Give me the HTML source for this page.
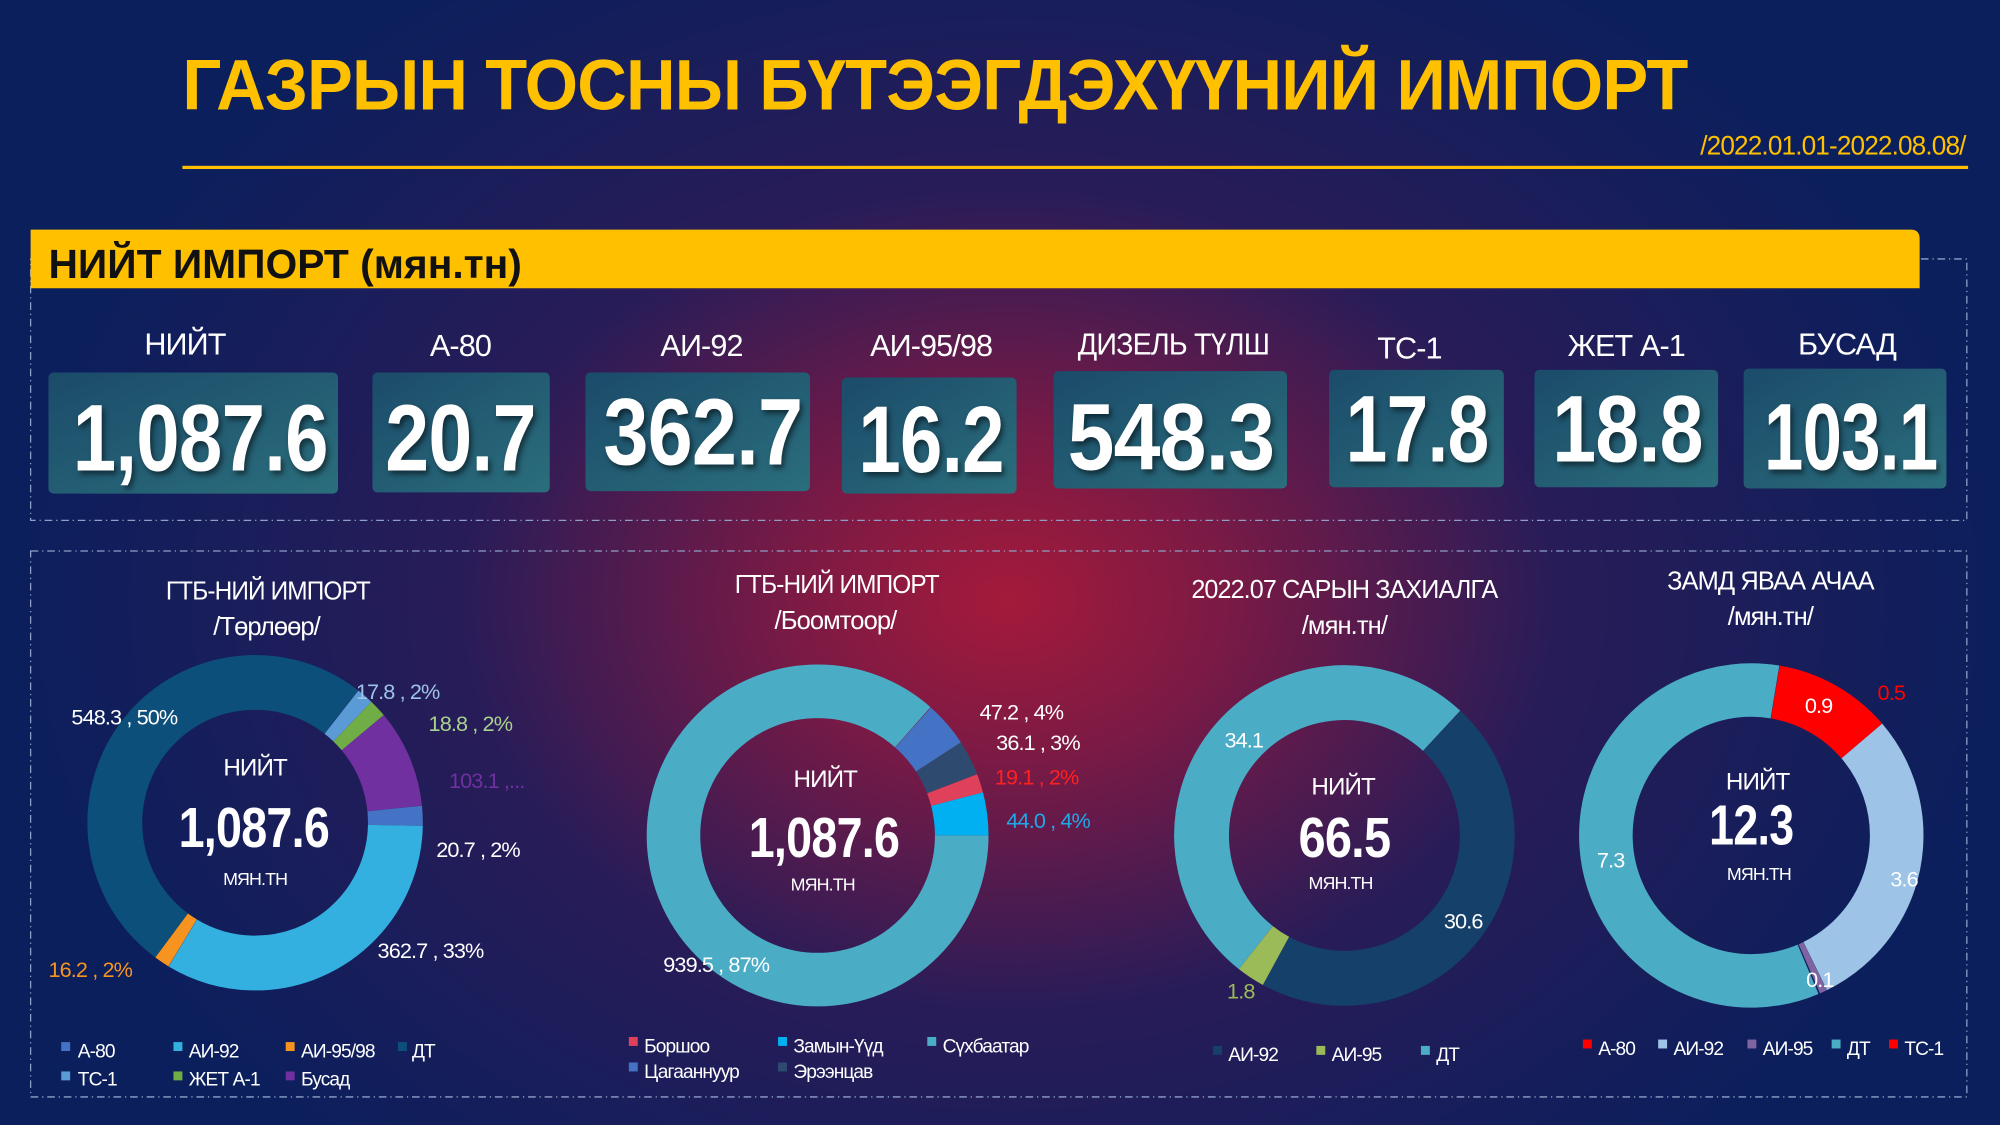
<!DOCTYPE html>
<html><head><meta charset="utf-8"><style>
html,body{margin:0;padding:0;width:2000px;height:1125px;overflow:hidden;background:#0b1f5c}
svg{display:block}
text{font-family:"Liberation Sans Narrow","Liberation Sans",sans-serif;fill:#fff;letter-spacing:-0.7px}
</style></head><body>
<svg width="2000" height="1125" viewBox="0 0 1568 882" preserveAspectRatio="none" xmlns="http://www.w3.org/2000/svg">
<defs>
<radialGradient id="bg" cx="790" cy="470" r="780" gradientUnits="userSpaceOnUse" gradientTransform="translate(790 470) scale(1 0.75) translate(-790 -470)">
<stop offset="0" stop-color="#a51a3a"/><stop offset="0.22" stop-color="#7a1a45"/><stop offset="0.55" stop-color="#281c58"/><stop offset="1" stop-color="#0b1f5c"/>
</radialGradient>
<linearGradient id="card" x1="0" y1="0" x2="1" y2="1"><stop offset="0" stop-color="#1b4b6a"/><stop offset="1" stop-color="#2b6e7c"/></linearGradient>
</defs>
<rect width="1568" height="882" fill="#0b1f5c"/>
<rect width="1568" height="882" fill="url(#bg)"/>

<text x="733" y="86" text-anchor="middle" font-size="56" font-weight="bold" style="fill:#ffc000" textLength="1180" lengthAdjust="spacingAndGlyphs">ГАЗРЫН ТОСНЫ БҮТЭЭГДЭХҮҮНИЙ ИМПОРТ</text>
<rect x="143" y="130" width="1400" height="2.5" fill="#ffc000"/>
<text x="1541" y="121" text-anchor="end" font-size="21" style="fill:#ffc000" textLength="208" lengthAdjust="spacingAndGlyphs">/2022.01.01-2022.08.08/</text>

<rect x="24" y="203" width="1518" height="205" fill="none" stroke="#8fa0c8" stroke-width="1" stroke-dasharray="6 3 1 3"/>
<rect x="24" y="432" width="1518" height="428" fill="none" stroke="#8fa0c8" stroke-width="1" stroke-dasharray="6 3 1 3"/>
<path d="M24 180 H1498 Q1505 180 1505 187 V226 H24 Z" fill="#ffc000"/>
<text x="38" y="218" font-size="32" font-weight="bold" style="fill:#111;letter-spacing:0" font-family="Liberation Sans">НИЙТ ИМПОРТ (мян.тн)</text>

<g font-size="24">
<text x="145" y="278" text-anchor="middle">НИЙТ</text>
<text x="361" y="279" text-anchor="middle">А-80</text>
<text x="550" y="279" text-anchor="middle">АИ-92</text>
<text x="730" y="279" text-anchor="middle">АИ-95/98</text>
<text x="920" y="278" text-anchor="middle" textLength="150" lengthAdjust="spacingAndGlyphs">ДИЗЕЛЬ ТҮЛШ</text>
<text x="1105" y="281" text-anchor="middle">ТС-1</text>
<text x="1275" y="279" text-anchor="middle">ЖЕТ А-1</text>
<text x="1448" y="278" text-anchor="middle">БУСАД</text>
</g>
<g fill="url(#card)">
<rect x="38" y="292" width="227" height="95" rx="4"/>
<rect x="292" y="292" width="139" height="94" rx="4"/>
<rect x="459" y="292" width="176" height="93" rx="4"/>
<rect x="660" y="296" width="137" height="91" rx="4"/>
<rect x="826" y="291" width="183" height="92" rx="4"/>
<rect x="1042" y="290" width="137" height="92" rx="4"/>
<rect x="1203" y="290" width="144" height="92" rx="4"/>
<rect x="1367" y="289" width="159" height="94" rx="4"/>
</g>
<g font-size="74" font-weight="bold" style="filter:drop-shadow(2px 3px 2px rgba(0,0,0,0.5))">
<text x="157" y="369" text-anchor="middle" textLength="200" lengthAdjust="spacingAndGlyphs">1,087.6</text>
<text x="361" y="369" text-anchor="middle" textLength="118" lengthAdjust="spacingAndGlyphs">20.7</text>
<text x="551" y="364" text-anchor="middle" textLength="156" lengthAdjust="spacingAndGlyphs">362.7</text>
<text x="730" y="370" text-anchor="middle" textLength="114" lengthAdjust="spacingAndGlyphs">16.2</text>
<text x="918" y="368" text-anchor="middle" textLength="162" lengthAdjust="spacingAndGlyphs">548.3</text>
<text x="1111" y="362" text-anchor="middle" textLength="112" lengthAdjust="spacingAndGlyphs">17.8</text>
<text x="1276" y="362" text-anchor="middle" textLength="118" lengthAdjust="spacingAndGlyphs">18.8</text>
<text x="1451" y="368" text-anchor="middle" textLength="136" lengthAdjust="spacingAndGlyphs">103.1</text>
</g>

<g font-size="20" text-anchor="middle">
<text x="210" y="470" textLength="160" lengthAdjust="spacingAndGlyphs">ГТБ-НИЙ ИМПОРТ</text><text x="209" y="498">/Төрлөөр/</text>
<text x="656" y="465" textLength="160" lengthAdjust="spacingAndGlyphs">ГТБ-НИЙ ИМПОРТ</text><text x="655" y="493">/Боомтоор/</text>
<text x="1054" y="469" textLength="240" lengthAdjust="spacingAndGlyphs">2022.07 САРЫН ЗАХИАЛГА</text><text x="1054" y="497">/мян.тн/</text>
<text x="1388" y="462" textLength="162" lengthAdjust="spacingAndGlyphs">ЗАМД ЯВАА АЧАА</text><text x="1388" y="490">/мян.тн/</text>
</g>
<g fill="none" stroke-width="43">
<circle cx="200" cy="645" r="110" pathLength="360" stroke="#0b4f7a" stroke-dasharray="181.5 360" transform="rotate(126.5 200 645)"/>
<circle cx="200" cy="645" r="110" pathLength="360" stroke="#5b9bd5" stroke-dasharray="5.9 360" transform="rotate(-52 200 645)"/>
<circle cx="200" cy="645" r="110" pathLength="360" stroke="#70ad47" stroke-dasharray="6.2 360" transform="rotate(-46.1 200 645)"/>
<circle cx="200" cy="645" r="110" pathLength="360" stroke="#7030a0" stroke-dasharray="34.1 360" transform="rotate(-39.9 200 645)"/>
<circle cx="200" cy="645" r="110" pathLength="360" stroke="#4472c4" stroke-dasharray="6.9 360" transform="rotate(-5.8 200 645)"/>
<circle cx="200" cy="645" r="110" pathLength="360" stroke="#33b0e0" stroke-dasharray="120 360" transform="rotate(1.1 200 645)"/>
<circle cx="200" cy="645" r="110" pathLength="360" stroke="#f79420" stroke-dasharray="5.4 360" transform="rotate(121.1 200 645)"/>
</g>
<g fill="none" stroke-width="42">
<circle cx="641" cy="655" r="113" pathLength="360" stroke="#4bacc6" stroke-dasharray="311.5 360" transform="rotate(0 641 655)"/>
<circle cx="641" cy="655" r="113" pathLength="360" stroke="#4472c4" stroke-dasharray="15.5 360" transform="rotate(-48.5 641 655)"/>
<circle cx="641" cy="655" r="113" pathLength="360" stroke="#2e4a6e" stroke-dasharray="12 360" transform="rotate(-33 641 655)"/>
<circle cx="641" cy="655" r="113" pathLength="360" stroke="#e0415a" stroke-dasharray="6.4 360" transform="rotate(-21 641 655)"/>
<circle cx="641" cy="655" r="113" pathLength="360" stroke="#00b0f0" stroke-dasharray="14.6 360" transform="rotate(-14.6 641 655)"/>
</g>
<g fill="none" stroke-width="43">
<circle cx="1054" cy="655" r="112" pathLength="360" stroke="#4bacc6" stroke-dasharray="184.7 360" transform="rotate(128.3 1054 655)"/>
<circle cx="1054" cy="655" r="112" pathLength="360" stroke="#15406a" stroke-dasharray="165.6 360" transform="rotate(-47 1054 655)"/>
<circle cx="1054" cy="655" r="112" pathLength="360" stroke="#9bbb59" stroke-dasharray="9.7 360" transform="rotate(118.6 1054 655)"/>
</g>
<g fill="none" stroke-width="42">
<circle cx="1373" cy="655" r="114" pathLength="360" stroke="#4bacc6" stroke-dasharray="212.5 360" transform="rotate(67 1373 655)"/>
<circle cx="1373" cy="655" r="114" pathLength="360" stroke="#ff0000" stroke-dasharray="40 360" transform="rotate(-80.5 1373 655)"/>
<circle cx="1373" cy="655" r="114" pathLength="360" stroke="#9dc3e6" stroke-dasharray="104.5 360" transform="rotate(-40.5 1373 655)"/>
<circle cx="1373" cy="655" r="114" pathLength="360" stroke="#8064a2" stroke-dasharray="2.5 360" transform="rotate(64 1373 655)"/>
</g>

<g text-anchor="middle">
<text x="200" y="608" font-size="19">НИЙТ</text>
<text x="199" y="664" font-size="44" font-weight="bold" textLength="118" lengthAdjust="spacingAndGlyphs">1,087.6</text>
<text x="200" y="694" font-size="14">МЯН.ТН</text>
<text x="647" y="617" font-size="19">НИЙТ</text>
<text x="646" y="672" font-size="44" font-weight="bold" textLength="118" lengthAdjust="spacingAndGlyphs">1,087.6</text>
<text x="645" y="698" font-size="14">МЯН.ТН</text>
<text x="1053" y="623" font-size="19">НИЙТ</text>
<text x="1054" y="672" font-size="44" font-weight="bold" textLength="72" lengthAdjust="spacingAndGlyphs">66.5</text>
<text x="1051" y="697" font-size="14">МЯН.ТН</text>
<text x="1378" y="619" font-size="19">НИЙТ</text>
<text x="1373" y="662" font-size="44" font-weight="bold" textLength="66" lengthAdjust="spacingAndGlyphs">12.3</text>
<text x="1379" y="690" font-size="14">МЯН.ТН</text>
</g>

<g font-size="17">
<text x="56" y="568">548.3 , 50%</text>
<text x="279" y="548" style="fill:#9dc3e6">17.8 , 2%</text>
<text x="336" y="573" style="fill:#a9d18e">18.8 , 2%</text>
<text x="352" y="618" style="fill:#7030a0">103.1 ,...</text>
<text x="342" y="672">20.7 , 2%</text>
<text x="296" y="751">362.7 , 33%</text>
<text x="38" y="766" style="fill:#f79420">16.2 , 2%</text>
<text x="520" y="762">939.5 , 87%</text>
<text x="768" y="564">47.2 , 4%</text>
<text x="781" y="588">36.1 , 3%</text>
<text x="780" y="615" style="fill:#ff2020">19.1 , 2%</text>
<text x="789" y="649" style="fill:#1fa8e8">44.0 , 4%</text>
<text x="960" y="586">34.1</text>
<text x="1132" y="728">30.6</text>
<text x="962" y="783" style="fill:#9bbb59">1.8</text>
<text x="1415" y="559">0.9</text>
<text x="1472" y="549" style="fill:#ff0000">0.5</text>
<text x="1252" y="680">7.3</text>
<text x="1482" y="695">3.6</text>
<text x="1416" y="774">0.1</text>
</g>

<g font-size="15">
<rect x="48" y="817" width="7" height="7" fill="#4472c4"/><text x="61" y="829">А-80</text>
<rect x="136" y="817" width="7" height="7" fill="#33b0e0"/><text x="148" y="829">АИ-92</text>
<rect x="224" y="817" width="7" height="7" fill="#f79420"/><text x="236" y="829">АИ-95/98</text>
<rect x="312" y="817" width="7" height="7" fill="#0b4f7a"/><text x="323" y="829">ДТ</text>
<rect x="48" y="840" width="7" height="7" fill="#5b9bd5"/><text x="61" y="851">ТС-1</text>
<rect x="136" y="840" width="7" height="7" fill="#70ad47"/><text x="148" y="851">ЖЕТ А-1</text>
<rect x="224" y="840" width="7" height="7" fill="#7030a0"/><text x="236" y="851">Бусад</text>

<rect x="493" y="813" width="7" height="7" fill="#e0415a"/><text x="505" y="825">Боршоо</text>
<rect x="610" y="813" width="7" height="7" fill="#00b0f0"/><text x="622" y="825">Замын-Үүд</text>
<rect x="727" y="813" width="7" height="7" fill="#4bacc6"/><text x="739" y="825">Сүхбаатар</text>
<rect x="493" y="833" width="7" height="7" fill="#4472c4"/><text x="505" y="845">Цагааннуур</text>
<rect x="610" y="833" width="7" height="7" fill="#2e4a6e"/><text x="622" y="845">Эрээнцав</text>

<rect x="951" y="820" width="7" height="7" fill="#15406a"/><text x="963" y="832">АИ-92</text>
<rect x="1032" y="820" width="7" height="7" fill="#9bbb59"/><text x="1044" y="832">АИ-95</text>
<rect x="1114" y="820" width="7" height="7" fill="#4bacc6"/><text x="1126" y="832">ДТ</text>

<rect x="1241" y="815" width="7" height="7" fill="#ff0000"/><text x="1253" y="827">А-80</text>
<rect x="1300" y="815" width="7" height="7" fill="#9dc3e6"/><text x="1312" y="827">АИ-92</text>
<rect x="1370" y="815" width="7" height="7" fill="#8064a2"/><text x="1382" y="827">АИ-95</text>
<rect x="1436" y="815" width="7" height="7" fill="#4bacc6"/><text x="1448" y="827">ДТ</text>
<rect x="1481" y="815" width="7" height="7" fill="#ff0000"/><text x="1493" y="827">ТС-1</text>
</g>
</svg>
</body></html>
